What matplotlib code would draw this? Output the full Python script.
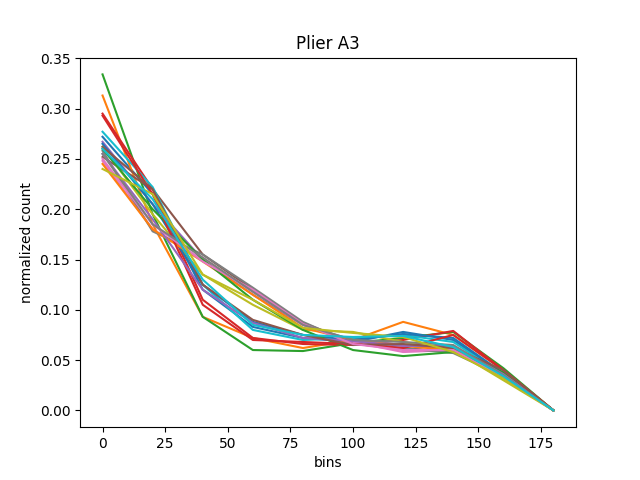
import numpy as np
import matplotlib
matplotlib.use("Agg")
import matplotlib.pyplot as plt

bins = [0, 20, 40, 60, 80, 100, 120, 140, 160, 180]

# one normalized histogram per sample
s01 = [0.272, 0.215, 0.120, 0.083, 0.072, 0.068, 0.078, 0.070, 0.036, 0.0]
s02 = [0.313, 0.185, 0.093, 0.072, 0.062, 0.070, 0.088, 0.075, 0.040, 0.0]
s03 = [0.334, 0.195, 0.093, 0.060, 0.059, 0.067, 0.072, 0.078, 0.042, 0.0]
s04 = [0.295, 0.220, 0.110, 0.072, 0.066, 0.065, 0.070, 0.079, 0.040, 0.0]
s05 = [0.267, 0.205, 0.150, 0.115, 0.085, 0.070, 0.065, 0.062, 0.034, 0.0]
s06 = [0.252, 0.220, 0.155, 0.120, 0.087, 0.068, 0.062, 0.058, 0.035, 0.0]
s07 = [0.248, 0.180, 0.150, 0.118, 0.085, 0.068, 0.058, 0.060, 0.033, 0.0]
s08 = [0.258, 0.178, 0.155, 0.122, 0.088, 0.066, 0.062, 0.057, 0.034, 0.0]
s09 = [0.262, 0.195, 0.135, 0.105, 0.080, 0.078, 0.068, 0.060, 0.030, 0.0]
s10 = [0.277, 0.222, 0.125, 0.080, 0.070, 0.072, 0.075, 0.068, 0.035, 0.0]
s11 = [0.265, 0.205, 0.125, 0.088, 0.075, 0.070, 0.076, 0.072, 0.037, 0.0]
s12 = [0.245, 0.180, 0.148, 0.115, 0.082, 0.070, 0.064, 0.060, 0.036, 0.0]
s13 = [0.260, 0.200, 0.150, 0.110, 0.080, 0.060, 0.054, 0.058, 0.038, 0.0]
s14 = [0.293, 0.215, 0.105, 0.070, 0.068, 0.066, 0.062, 0.075, 0.040, 0.0]
s15 = [0.255, 0.190, 0.120, 0.087, 0.072, 0.069, 0.064, 0.064, 0.036, 0.0]
s16 = [0.262, 0.220, 0.125, 0.090, 0.075, 0.065, 0.066, 0.062, 0.040, 0.0]
s17 = [0.250, 0.185, 0.148, 0.120, 0.086, 0.066, 0.060, 0.060, 0.033, 0.0]
s18 = [0.255, 0.185, 0.152, 0.118, 0.085, 0.070, 0.068, 0.065, 0.035, 0.0]
s19 = [0.240, 0.215, 0.135, 0.110, 0.082, 0.077, 0.073, 0.058, 0.032, 0.0]
s20 = [0.260, 0.210, 0.130, 0.085, 0.075, 0.073, 0.074, 0.063, 0.034, 0.0]

samples = [s01, s02, s03, s04, s05, s06, s07, s08, s09, s10,
           s11, s12, s13, s14, s15, s16, s17, s18, s19, s20]

fig, ax = plt.subplots(figsize=(6.4, 4.8), dpi=100)

for s in samples:
    ax.plot(bins, s)

ax.set_title("Plier A3")
ax.set_xlabel("bins")
ax.set_ylabel("normalized count")

fig.savefig("out.png", dpi=100)
